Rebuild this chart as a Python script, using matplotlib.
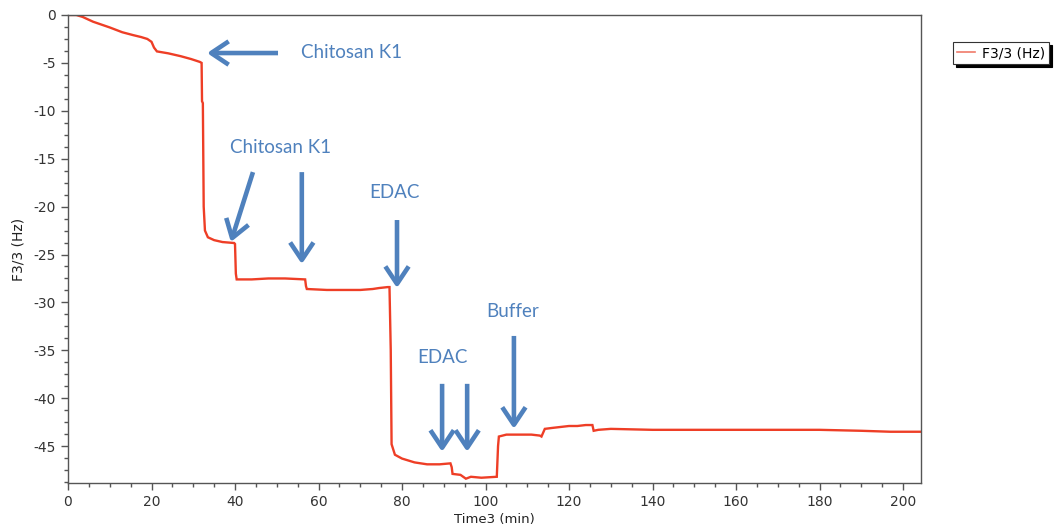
import matplotlib
matplotlib.use("Agg")
import matplotlib.pyplot as plt
from matplotlib.lines import Line2D

plt.rcParams["axes.unicode_minus"] = False

# QCM-D trace: third overtone frequency shift versus time
time_min = [0, 2.0, 3.5, 6, 10, 13, 15.6, 17.5, 19.0, 20.0, 20.6, 21.3, 24, 27, 29.5, 31.6,
            32.0, 32.1, 32.3, 32.5, 32.8, 33.5, 35, 37, 39.8, 40.0, 40.2, 40.4, 44, 48,
            52, 56.8, 57.0, 57.2, 62, 66, 70, 73, 74.5, 76.6, 77.0, 77.3, 77.5, 78.3, 80,
            83, 86, 89, 91.6, 91.9, 92.1, 94, 95.3, 96.5, 99, 102.7, 103.0, 103.2, 105,
            108, 111, 113.0, 113.4, 114.2, 116, 118, 120, 122, 124, 125.6, 125.9, 127,
            130, 140, 150, 160, 170, 180, 190, 197, 204.3]
shift_hz = [0, 0, -0.2, -0.7, -1.3, -1.8, -2.1, -2.3, -2.5, -2.8, -3.4, -3.8, -4.0, -4.3, -4.6, -4.9,
            -5.0, -9.0, -9.2, -20.0, -22.5, -23.2, -23.5, -23.7, -23.8, -23.9, -27.0, -27.6, -27.6, -27.5,
            -27.5, -27.6, -28.3, -28.6, -28.7, -28.7, -28.7, -28.6, -28.5, -28.4, -28.4, -35.0, -44.8, -45.9, -46.3,
            -46.7, -46.9, -46.9, -46.8, -47.2, -47.9, -48.0, -48.4, -48.2, -48.3, -48.2, -45.0, -44.0, -43.8,
            -43.8, -43.8, -43.9, -44.0, -43.2, -43.1, -43.0, -42.9, -42.9, -42.8, -42.8, -43.4, -43.3,
            -43.2, -43.3, -43.3, -43.3, -43.3, -43.3, -43.4, -43.5, -43.5]

# Injection markers: (label, text x, text y)
labels = [("Chitosan K1", 67.8, -3.9), ("Chitosan K1", 50.8, -13.8), ("EDAC", 78.3, -18.5),
          ("EDAC", 89.6, -35.7), ("Buffer", 106.6, -30.9)]
# Arrows: (tail x, tail y, head x, head y)
arrows = [(50.3, -3.97, 33.3, -3.97), (44.3, -16.4, 39.0, -23.7), (56.0, -16.4, 56.0, -26.0),
          (78.8, -21.4, 78.8, -28.5), (89.6, -38.5, 89.6, -45.6), (95.6, -38.5, 95.6, -45.6),
          (106.8, -33.5, 106.8, -43.2)]

line_color = "#ee3e26"
note_color = "#4f81bd"
ui_font = "DejaVu Sans"

fig = plt.figure(figsize=(10.64, 5.29), dpi=100)
ax = fig.add_axes([68 / 1064, 1 - 483 / 529, (921 - 68) / 1064, (483 - 15) / 529])

ax.plot(time_min, shift_hz, color=line_color, lw=1.7, solid_joinstyle="miter")

ax.set_xlim(0, 204.3)
ax.set_ylim(-48.85, 0)
ax.set_xticks(range(0, 201, 20))
ax.set_xticks(range(0, 205, 5), minor=True)
ax.set_yticks(range(-45, 1, 5))
ax.set_yticks([-48.75 + 1.25 * i for i in range(40)], minor=True)

for s in ax.spines.values():
    s.set_color("#555555")
    s.set_linewidth(1.0)
ax.tick_params(which="major", direction="out", length=5, width=1, colors="#555555",
               labelcolor="#333333", labelsize=10)
ax.tick_params(which="minor", direction="out", length=3, width=1, colors="#555555")
ax.tick_params(top=False, right=False, which="both")
for lab in ax.get_xticklabels() + ax.get_yticklabels():
    lab.set_fontfamily(ui_font)

ax.set_xlabel("Time3 (min)", fontsize=9.5, family=ui_font, color="#222222", labelpad=3)
ax.set_ylabel("F3/3 (Hz)", fontsize=10, family=ui_font, color="#222222", labelpad=6)

for text, x, y in labels:
    ax.text(x, y, text, color=note_color, fontsize=13.5, family="Lato",
            ha="center", va="center")
for x0, y0, x1, y1 in arrows:
    ax.annotate("", xy=(x1, y1), xytext=(x0, y0),
                arrowprops=dict(arrowstyle="->,head_length=0.45,head_width=0.3",
                                color=note_color, lw=3.3, mutation_scale=28,
                                shrinkA=0, shrinkB=0, joinstyle="round", capstyle="butt"))

handle = Line2D([0], [0], color="#f07a6a", lw=1.2)
leg = fig.legend([handle], ["F3/3 (Hz)"], loc="upper left",
                 bbox_to_anchor=(953 / 1064, 1 - 42 / 529), frameon=True, fancybox=False,
                 shadow={"facecolor": "black", "edgecolor": "black", "alpha": 1},
                 prop={"family": ui_font, "size": 10},
                 handlelength=1.3, handletextpad=0.5, borderpad=0.3, borderaxespad=0)
leg.get_frame().set_edgecolor("#333333")
leg.get_frame().set_linewidth(0.8)

fig.savefig("out.png", dpi=100)
